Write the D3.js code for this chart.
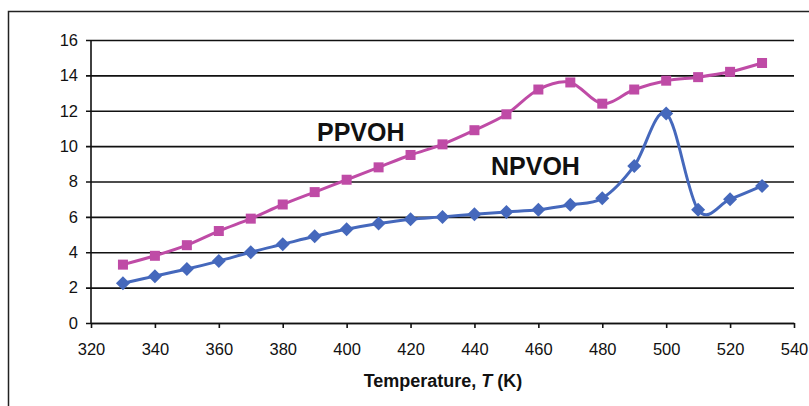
<!DOCTYPE html>
<html>
<head>
<meta charset="utf-8">
<script src="https://cdn.jsdelivr.net/npm/d3@7"></script>
<style>
  body { margin: 0; background: #fff; }
  svg { display: block; font-family: Arial, "Liberation Sans", sans-serif; }
</style>
</head>
<body>
<svg id="chart" width="809" height="406"></svg>
<script>
// data
var temps = [330, 340, 350, 360, 370, 380, 390, 400, 410, 420, 430, 440, 450, 460, 470, 480, 490, 500, 510, 520, 530];
var ppvoh = [3.3, 3.8, 4.4, 5.2, 5.9, 6.7, 7.4, 8.1, 8.8, 9.5, 10.1, 10.9, 11.8, 13.2, 13.6, 12.4, 13.2, 13.7, 13.9, 14.2, 14.7];
var npvoh = [2.25, 2.65, 3.05, 3.5, 4.0, 4.45, 4.9, 5.3, 5.62, 5.87, 6.0, 6.15, 6.28, 6.4, 6.68, 7.05, 8.88, 11.85, 6.4, 7.0, 7.75];
var xTicks = [320, 340, 360, 380, 400, 420, 440, 460, 480, 500, 520, 540];
var yTicks = [0, 2, 4, 6, 8, 10, 12, 14, 16];

// svg parameters
var svg = d3.select("#chart"),
    margin = {top: 40, right: 15, bottom: 83, left: 91},
    width = 794 - margin.left,
    height = 323 - margin.top;

// outer frame
svg.append("rect")
  .attr("x", 8.5).attr("y", 11.5)
  .attr("width", 830).attr("height", 420)
  .attr("fill", "none").attr("stroke", "#222").attr("stroke-width", 1.5);

var x = d3.scaleLinear().domain([320, 540]).range([0, width]),
    y = d3.scaleLinear().domain([0, 16]).range([height, 0]);

var g = svg.append("g")
  .attr("transform", "translate(" + margin.left + "," + margin.top + ")");

// gridlines + y axis
var yAxis = g.append("g")
  .call(d3.axisLeft(y).tickValues(yTicks).tickSizeInner(-width).tickSizeOuter(0).tickFormat(d3.format("d")));
yAxis.select(".domain").remove();
yAxis.selectAll(".tick line").attr("stroke", "#111").attr("stroke-width", 1.6).attr("x1", -5);
yAxis.selectAll(".tick text").attr("x", -13).attr("font-size", 16.5).attr("fill", "#111");

// y axis line
g.append("line")
  .attr("x1", 0).attr("x2", 0).attr("y1", 0).attr("y2", height)
  .attr("stroke", "#111").attr("stroke-width", 1.6);

// x axis
var xAxis = g.append("g")
  .attr("transform", "translate(0," + height + ")")
  .call(d3.axisBottom(x).tickValues(xTicks).tickSize(5).tickSizeOuter(0).tickFormat(d3.format("d")));
xAxis.select(".domain").attr("stroke", "#111").attr("stroke-width", 1.6);
xAxis.selectAll(".tick line").attr("stroke", "#111").attr("stroke-width", 1.6);
xAxis.selectAll(".tick text").attr("y", 20).attr("font-size", 16.5).attr("fill", "#111");

// axis title
var title = svg.append("text")
  .attr("x", 443).attr("y", 387)
  .attr("text-anchor", "middle")
  .attr("font-size", 18).attr("font-weight", "bold").attr("fill", "#111");
title.append("tspan").text("Temperature, ");
title.append("tspan").attr("font-style", "italic").text("T");
title.append("tspan").text(" (K)");

// series
var line = d3.line()
  .x(function(d) { return x(d[0]); })
  .y(function(d) { return y(d[1]); })
  .curve(d3.curveCatmullRom.alpha(0));

var pData = temps.map(function(t, i) { return [t, ppvoh[i]]; });
var nData = temps.map(function(t, i) { return [t, npvoh[i]]; });

var pink = "#BF4BA6", blue = "#4568BC";

g.append("path").datum(pData)
  .attr("d", line).attr("fill", "none").attr("stroke", pink).attr("stroke-width", 3);
g.append("path").datum(nData)
  .attr("d", line).attr("fill", "none").attr("stroke", blue).attr("stroke-width", 3);

g.selectAll(".sq").data(pData).enter().append("rect")
  .attr("class", "sq")
  .attr("x", function(d) { return x(d[0]) - 5; })
  .attr("y", function(d) { return y(d[1]) - 5; })
  .attr("width", 10).attr("height", 10)
  .attr("fill", pink);

g.selectAll(".dm").data(nData).enter().append("path")
  .attr("class", "dm")
  .attr("transform", function(d) { return "translate(" + x(d[0]) + "," + y(d[1]) + ")"; })
  .attr("d", "M0,-7L7,0L0,7L-7,0Z")
  .attr("fill", blue);

// labels
svg.append("text").attr("x", 317).attr("y", 141)
  .attr("font-size", 25).attr("font-weight", "bold").attr("fill", "#111").text("PPVOH");
svg.append("text").attr("x", 491).attr("y", 175)
  .attr("font-size", 25).attr("font-weight", "bold").attr("fill", "#111").text("NPVOH");
</script>
</body>
</html>
